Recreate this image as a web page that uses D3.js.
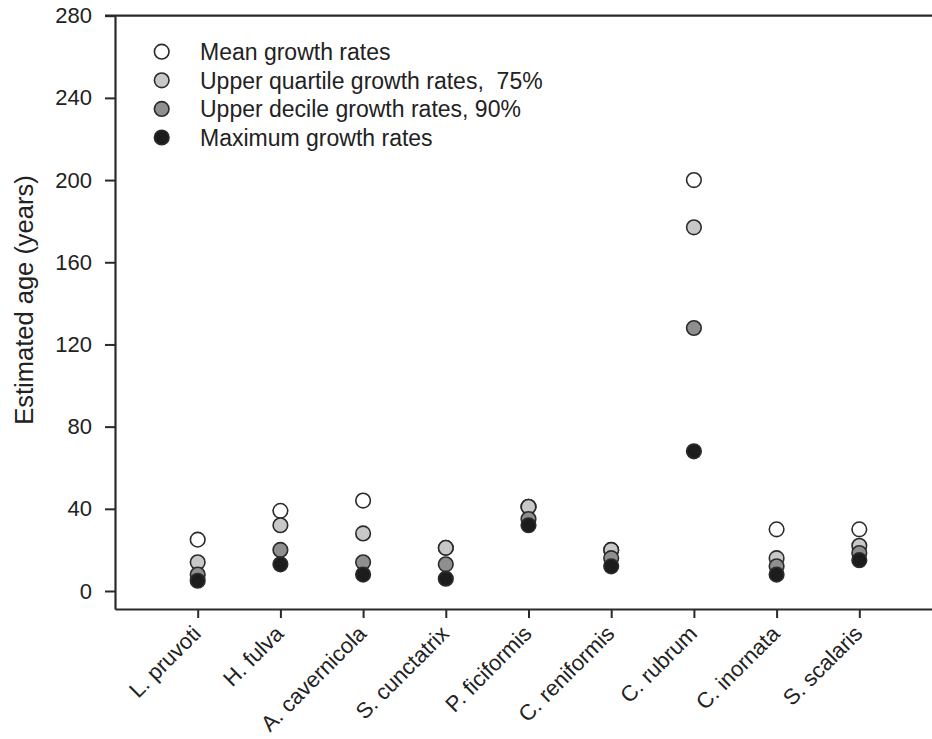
<!DOCTYPE html>
<html>
<head>
<meta charset="utf-8">
<script src="https://cdn.jsdelivr.net/npm/d3@7/dist/d3.min.js"></script>
<style>
  html, body { margin: 0; padding: 0; background: #fff; }
  svg { display: block; font-family: "Liberation Sans", Arial, sans-serif; }
  text { white-space: pre; }
</style>
</head>
<body>
<svg id="chart" width="932" height="739"></svg>
<script>
// Sponge species (x categories)
const species = ["L. pruvoti", "H. fulva", "A. cavernicola", "S. cunctatrix", "P. ficiformis",
                 "C. reniformis", "C. rubrum", "C. inornata", "S. scalaris"];

// Estimated age (years) by growth-rate assumption
const meanAge     = [25, 39, 44, 21, 41, 20, 200, 30, 30];
const quartileAge = [14, 32, 28, 21, 41, 20, 177, 16, 22];
const decileAge   = [8, 20, 14, 13, 35, 16, 128, 12, 18.5];
const maxAge      = [5, 13, 8, 6, 32, 12, 68, 8, 15];

const seriesNames = ["Mean growth rates", "Upper quartile growth rates,  75%",
                     "Upper decile growth rates, 90%", "Maximum growth rates"];
const seriesFills = ["#ffffff", "#c8c8c8", "#8f8f8f", "#1c1c1c"];

const yTicks = [0, 40, 80, 120, 160, 200, 240, 280];

const series = [meanAge, quartileAge, decileAge, maxAge];

const svg = d3.select("#chart");
const axisColor = "#2a2a2a";
const textColor = "#222";
const font = "'Liberation Sans', Arial, sans-serif";

// Scales: one category step to the left of the first species, axis frame below zero
const x = d3.scaleLinear().domain([-1, 10]).range([115, 115 + 11 * 82.7]);
const y = d3.scaleLinear().domain([-8.76, 280]).range([609, 15.7]);

// Top frame line at the 280 level
svg.append("line")
  .attr("x1", 105).attr("x2", 932)
  .attr("y1", y(280)).attr("y2", y(280))
  .attr("stroke", axisColor).attr("stroke-width", 2.2);

// Y axis
const yAxis = svg.append("g")
  .attr("transform", `translate(${x(-1)},0)`)
  .call(d3.axisLeft(y).tickValues(yTicks).tickSize(10).tickSizeOuter(0).tickPadding(13));
yAxis.select(".domain").attr("stroke", axisColor).attr("stroke-width", 2.2);
yAxis.selectAll(".tick line").attr("stroke", axisColor).attr("stroke-width", 2);
yAxis.selectAll(".tick text")
  .attr("font-size", 22).attr("fill", textColor)
  .style("font-family", font);

// X axis
const xAxis = svg.append("g")
  .attr("transform", `translate(0,${y(-8.76)})`)
  .call(d3.axisBottom(x).tickValues(d3.range(species.length)).tickSize(9).tickSizeOuter(0)
    .tickFormat(i => species[i]));
xAxis.select(".domain").attr("stroke", axisColor).attr("stroke-width", 2.2);
xAxis.selectAll(".tick line").attr("stroke", axisColor).attr("stroke-width", 2);
xAxis.selectAll(".tick text")
  .attr("font-size", 22).attr("fill", textColor)
  .style("font-family", font)
  .attr("text-anchor", "end")
  .attr("dy", null)
  .attr("y", 0)
  .attr("transform", "translate(4,26) rotate(-45)");

// Y axis title
svg.append("text")
  .attr("transform", `translate(33,300) rotate(-90)`)
  .attr("text-anchor", "middle")
  .attr("font-size", 25.5)
  .attr("fill", textColor)
  .text("Estimated age (years)");

// Points: each series drawn in order so maximum-rate markers sit on top
series.forEach((vals, s) => {
  svg.append("g").selectAll("circle")
    .data(vals)
    .join("circle")
    .attr("cx", (d, i) => x(i))
    .attr("cy", d => y(d))
    .attr("r", 7.3)
    .attr("fill", seriesFills[s])
    .attr("stroke", "#2b2b2b")
    .attr("stroke-width", 1.6);
});

// Legend
const legend = svg.append("g");
seriesNames.forEach((name, s) => {
  const ly = 51.7 + s * 28.6;
  legend.append("circle")
    .attr("cx", 161.7).attr("cy", ly).attr("r", 7.3)
    .attr("fill", seriesFills[s]).attr("stroke", "#2b2b2b").attr("stroke-width", 1.6);
  legend.append("text")
    .attr("x", 200).attr("y", ly + 8.3)
    .attr("font-size", 23).attr("fill", textColor)
    .text(name);
});
</script>
</body>
</html>
